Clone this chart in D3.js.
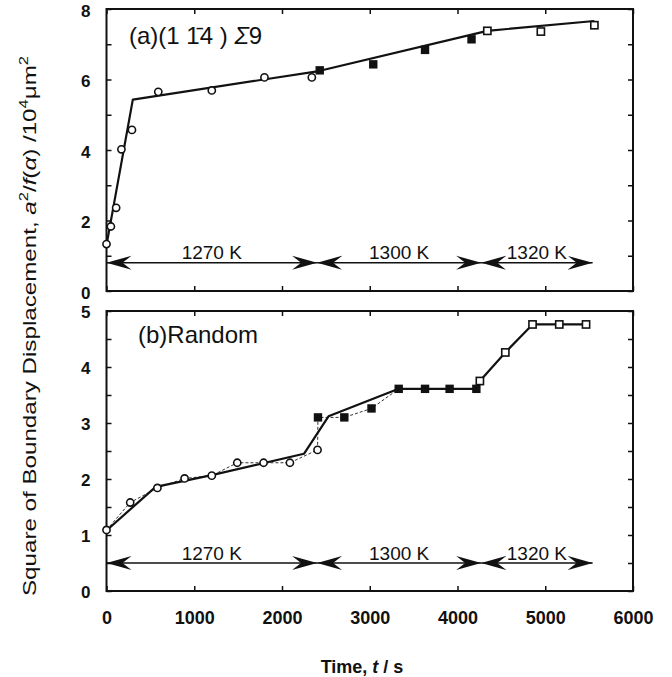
<!DOCTYPE html>
<html>
<head>
<meta charset="utf-8">
<script src="https://cdn.jsdelivr.net/npm/d3@7/dist/d3.min.js"></script>
<style>
  body { margin: 0; background: #fff; }
  svg text { font-family: "Liberation Sans", Arial, Helvetica, sans-serif; fill: #111; }
</style>
</head>
<body>
<div id="chart"></div>
<script>
// ---- data ----
// panel (a) (1-14) Sigma9
var tA_1270 = [0, 50, 110, 170, 290, 590, 1200, 1800, 2340];
var vA_1270 = [1.33, 1.83, 2.36, 4.02, 4.57, 5.65, 5.69, 6.06, 6.06];
var tA_1300 = [2430, 3040, 3630, 4160];
var vA_1300 = [6.26, 6.43, 6.84, 7.14];
var tA_1320 = [4340, 4950, 5560];
var vA_1320 = [7.38, 7.36, 7.54];
var tA_fit = [0, 300, 2420, 4340, 5560];
var vA_fit = [1.3, 5.43, 6.24, 7.38, 7.66];

// panel (b) Random
var tB_1270 = [0, 270, 580, 890, 1200, 1490, 1790, 2090, 2405];
var vB_1270 = [1.09, 1.58, 1.84, 2.01, 2.06, 2.29, 2.29, 2.29, 2.52];
var tB_1300 = [2410, 2710, 3020, 3330, 3630, 3910, 4215];
var vB_1300 = [3.10, 3.10, 3.26, 3.61, 3.61, 3.61, 3.61];
var tB_1320 = [4255, 4545, 4855, 5160, 5465];
var vB_1320 = [3.75, 4.26, 4.76, 4.76, 4.76];
var tB_fit = [0, 560, 1200, 2250, 2530, 3330, 4215, 4255, 4545, 4855, 5465];
var vB_fit = [1.08, 1.86, 2.07, 2.45, 3.12, 3.61, 3.61, 3.75, 4.26, 4.76, 4.76];

// temperature periods (arrows)
var periodEdges = [0, 2400, 4270, 5540];
var periodLabels = ["1270 K", "1300 K", "1320 K"];

// ticks
var xTicks = [0, 1000, 2000, 3000, 4000, 5000, 6000];
var yTicksA = [0, 1, 2, 3, 4, 5, 6, 7, 8];
var yLabelsA = [0, 2, 4, 6, 8];
var yTicksB = [0, 0.5, 1, 1.5, 2, 2.5, 3, 3.5, 4, 4.5, 5];
var yLabelsB = [0, 1, 2, 3, 4, 5];

function zip(t, v) { return t.map(function (d, i) { return [d, v[i]]; }); }

var W = 672, H = 677;
var svg = d3.select("#chart").append("svg")
  .attr("width", W).attr("height", H);

// stealth arrow head
svg.append("defs").append("marker")
  .attr("id", "stealth")
  .attr("viewBox", "-25 -8 26 16")
  .attr("markerUnits", "userSpaceOnUse")
  .attr("markerWidth", 26).attr("markerHeight", 16)
  .attr("refX", 0).attr("refY", 0)
  .attr("orient", "auto-start-reverse")
  .append("path")
  .attr("d", "M0,0 L-25,-7 L-16,0 L-25,7 Z")
  .attr("fill", "#111");

var x = d3.scaleLinear().domain([0, 6000]).range([106.5, 633]);

function drawPanel(cfg) {
  var y = d3.scaleLinear().domain(cfg.domain).range([cfg.bottom, cfg.top]);
  var g = svg.append("g");

  // frame
  g.append("rect")
    .attr("x", x(0)).attr("y", y(cfg.domain[1]))
    .attr("width", x(6000) - x(0)).attr("height", y(cfg.domain[0]) - y(cfg.domain[1]))
    .attr("fill", "none").attr("stroke", "#111").attr("stroke-width", 2);

  var left = g.append("g").attr("transform", "translate(" + x(0) + ",0)")
    .call(d3.axisLeft(y).tickValues(cfg.yTicks).tickSizeInner(-5).tickSizeOuter(0).tickPadding(16)
      .tickFormat(function (d) { return cfg.yLabels.indexOf(d) >= 0 ? d : ""; }));

  var right = g.append("g").attr("transform", "translate(" + x(6000) + ",0)")
    .call(d3.axisRight(y).tickValues(cfg.yTicks).tickSizeInner(-5).tickSizeOuter(0).tickFormat(""));

  var top = g.append("g").attr("transform", "translate(0," + y(cfg.domain[1]) + ")")
    .call(d3.axisTop(x).tickValues(xTicks).tickSizeInner(-5).tickSizeOuter(0).tickFormat(""));

  var bot = g.append("g").attr("transform", "translate(0," + y(cfg.domain[0]) + ")")
    .call(d3.axisBottom(x).tickValues(xTicks).tickSizeInner(-5).tickSizeOuter(0).tickPadding(20)
      .tickFormat(cfg.xLabels ? d3.format("d") : ""));

  [left, right, top, bot].forEach(function (a) {
    a.select(".domain").remove();
    a.selectAll(".tick line").attr("stroke", "#111").attr("stroke-width", 1.5);
    a.selectAll("text").attr("font-size", 18).attr("font-weight", "bold").attr("fill", "#111");
  });
  left.selectAll("text").attr("font-size", 17).attr("dy", cfg.labelDy);

  var line = d3.line().x(function (d) { return x(d[0]); }).y(function (d) { return y(d[1]); });

  // thin dashed line through the measured points
  if (cfg.pts) {
    g.append("path")
      .datum(cfg.pts)
      .attr("d", line)
      .attr("fill", "none").attr("stroke", "#333").attr("stroke-width", 1)
      .attr("stroke-dasharray", "3,2");
  }

  // thick fitted line
  g.append("path")
    .datum(cfg.fit)
    .attr("d", line)
    .attr("fill", "none").attr("stroke", "#111").attr("stroke-width", 2.2)
    .attr("stroke-linejoin", "round");

  // circles 1270 K
  g.selectAll(".c1270").data(cfg.s1270).enter().append("circle")
    .attr("cx", function (d) { return x(d[0]); })
    .attr("cy", function (d) { return y(d[1]); })
    .attr("r", 3.6)
    .attr("fill", "#fff").attr("stroke", "#111").attr("stroke-width", 1.6);

  // filled squares 1300 K
  g.selectAll(".s1300").data(cfg.s1300).enter().append("rect")
    .attr("x", function (d) { return x(d[0]) - 4.2; })
    .attr("y", function (d) { return y(d[1]) - 4.2; })
    .attr("width", 8.4).attr("height", 8.4)
    .attr("fill", "#111");

  // open squares 1320 K
  g.selectAll(".s1320").data(cfg.s1320).enter().append("rect")
    .attr("x", function (d) { return x(d[0]) - 3.6; })
    .attr("y", function (d) { return y(d[1]) - 3.6; })
    .attr("width", 7.2).attr("height", 7.2)
    .attr("fill", "#fff").attr("stroke", "#111").attr("stroke-width", 1.6);

  // temperature arrows
  for (var i = 0; i < periodLabels.length; i++) {
    var a = periodEdges[i], b = periodEdges[i + 1];
    g.append("line")
      .attr("x1", x(a)).attr("x2", x(b))
      .attr("y1", y(cfg.arrowY)).attr("y2", y(cfg.arrowY))
      .attr("stroke", "#111").attr("stroke-width", 1.6)
      .attr("marker-start", "url(#stealth)")
      .attr("marker-end", "url(#stealth)");
    g.append("text")
      .attr("x", x((a + b) / 2)).attr("y", y(cfg.arrowY) - 3.5)
      .attr("text-anchor", "middle")
      .attr("font-size", 19)
      .text(periodLabels[i]);
  }

  // panel title
  var title = g.append("text")
    .attr("x", cfg.titleX).attr("y", cfg.titleY)
    .attr("font-size", 24);
  cfg.title(title);
}

drawPanel({
  domain: [0, 8], top: 9, bottom: 291,
  yTicks: yTicksA, yLabels: yLabelsA, labelDy: "0.42em", xLabels: false,
  pts: null,
  fit: zip(tA_fit, vA_fit),
  s1270: zip(tA_1270, vA_1270), s1300: zip(tA_1300, vA_1300), s1320: zip(tA_1320, vA_1320),
  arrowY: 0.8,
  titleX: 129, titleY: 44,
  title: function (t) {
    t.append("tspan").text("(a)(1 ");
    t.append("tspan").text("1\u0304");
    t.append("tspan").text("4 ) ");
    t.append("tspan").attr("font-style", "italic").text("\u03A3");
    t.append("tspan").text("9");
  }
});

drawPanel({
  domain: [0, 5], top: 311, bottom: 591,
  yTicks: yTicksB, yLabels: yLabelsB, labelDy: "0.38em", xLabels: true,
  pts: zip(tB_1270, vB_1270).concat(zip(tB_1300, vB_1300), zip(tB_1320, vB_1320)),
  fit: zip(tB_fit, vB_fit),
  s1270: zip(tB_1270, vB_1270), s1300: zip(tB_1300, vB_1300), s1320: zip(tB_1320, vB_1320),
  arrowY: 0.5,
  titleX: 138, titleY: 343,
  title: function (t) { t.text("(b)Random"); }
});

// axis titles
var xt = svg.append("text")
  .attr("x", 362).attr("y", 673)
  .attr("text-anchor", "middle")
  .attr("font-size", 18).attr("font-weight", "bold");
xt.append("tspan").text("Time, ");
xt.append("tspan").attr("font-style", "italic").text("t");
xt.append("tspan").text(" / s");

var yt = svg.append("text")
  .attr("transform", "translate(36,326) rotate(-90)")
  .attr("text-anchor", "middle")
  .attr("font-size", 19)
  .attr("textLength", 540)
  .attr("lengthAdjust", "spacingAndGlyphs");
yt.append("tspan").text("Square of Boundary Displacement,  ");
yt.append("tspan").attr("font-style", "italic").text("a");
yt.append("tspan").attr("font-size", 13).attr("dy", -8).text("2");
yt.append("tspan").attr("dy", 8).text("/");
yt.append("tspan").attr("font-style", "italic").text("f");
yt.append("tspan").text("(");
yt.append("tspan").attr("font-style", "italic").text("\u03B1");
yt.append("tspan").text(") /10");
yt.append("tspan").attr("font-size", 13).attr("dy", -8).text("4");
yt.append("tspan").attr("dy", 8).text("\u03BCm");
yt.append("tspan").attr("font-size", 13).attr("dy", -8).text("2");
</script>
</body>
</html>
